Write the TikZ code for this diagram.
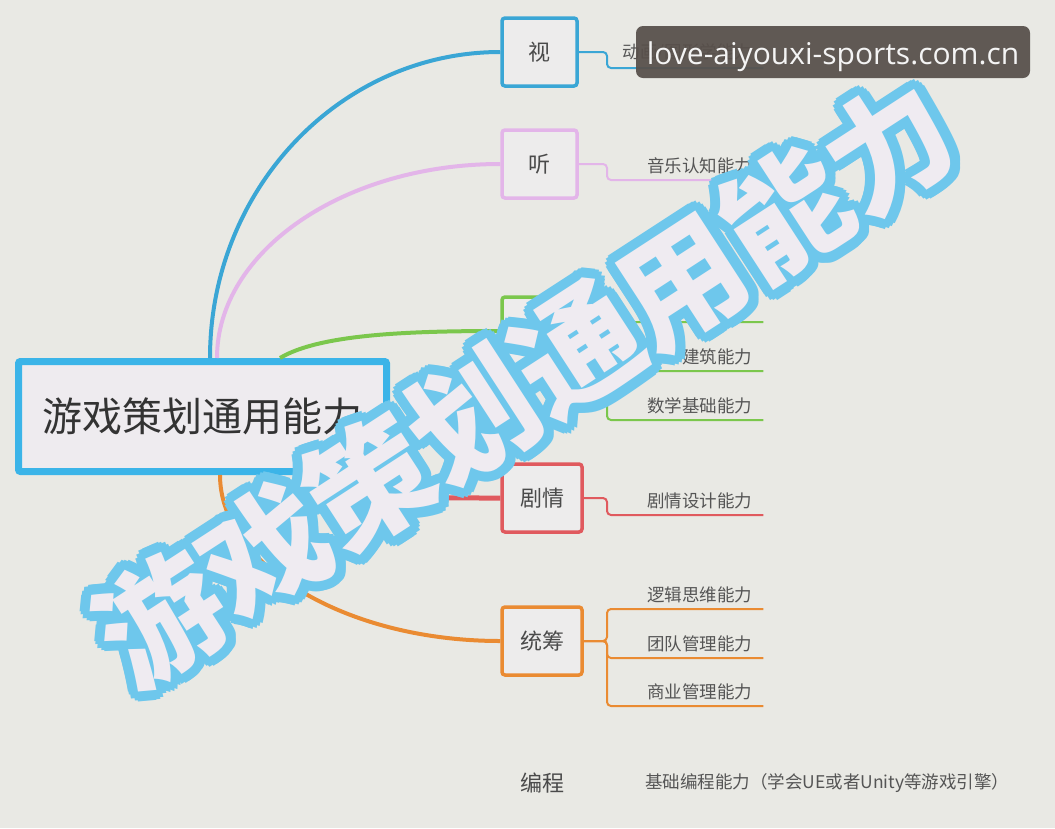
\documentclass[tikz,border=0pt]{standalone}
\usepackage{fontspec}
\setmainfont{Noto Sans CJK SC}
\newfontfamily\urlfont{Open Sans}
\definecolor{paper}{HTML}{E9E9E4}
\definecolor{rootfill}{HTML}{EEEBEF}
\definecolor{boxfill}{HTML}{EDECEC}
\definecolor{rootblue}{HTML}{3BB4E8}
\definecolor{visblue}{HTML}{3AA6D5}
\definecolor{hearpink}{HTML}{E3B5E9}
\definecolor{growgreen}{HTML}{7BC74C}
\definecolor{plotred}{HTML}{E05A5E}
\definecolor{planorange}{HTML}{EA8B32}
\definecolor{labelgray}{HTML}{4A4A4A}
\definecolor{leafgray}{HTML}{555555}
\definecolor{roottext}{HTML}{333333}
\definecolor{wmblue}{HTML}{6EC7EC}
\definecolor{wmfill}{HTML}{EFEBF1}
\definecolor{urlbg}{HTML}{58504B}
\definecolor{urltext}{HTML}{F4F4F4}
\begin{document}
\begin{tikzpicture}[x=1pt, y=-1pt,
    topic/.style={draw=#1, fill=boxfill, line width=3.5pt, rounded corners=3pt,
      minimum width=75pt, minimum height=68pt, text=labelgray,
      font=\fontsize{22}{26}\selectfont},
    wide/.style={minimum width=80pt},
    leaf/.style={anchor=south west, text width=134pt, inner xsep=11pt, inner ysep=6pt,
      align=right, text=leafgray, font=\fontsize{17.5}{20}\selectfont},
    trunk/.style={draw=#1, line width=4pt},
    twig/.style={draw=#1, line width=2pt, rounded corners=4pt},
    wmtext/.style={rotate=33, inner sep=0pt, text=wmfill,
      font=\bfseries\fontsize{124}{124}\selectfont}]
  \useasboundingbox (0,0) rectangle (1055,828);
  \fill[paper] (0,0) rectangle (1055,828);

  % root and main topics
  \node[draw=rootblue, fill=rootfill, line width=7pt, rounded corners=2pt,
    minimum width=368pt, minimum height=110pt, text=roottext,
    font=\fontsize{40}{44}\selectfont] (root) at (202.5,416.5) {游戏策划通用能力};
  \node[topic=visblue] (see) at (539.5,52) {视};
  \node[topic=hearpink] (hear) at (539.5,164) {听};
  \node[topic=growgreen, wide] (build) at (542,331) {};
  \node[topic=plotred, wide] (plot) at (542,498) {剧情};
  \node[topic=planorange, wide] (plan) at (542,641) {统筹};
  \node[text=labelgray, font=\fontsize{22}{26}\selectfont] (code) at (542,783) {编程};

  % leaves
  \node[leaf] (anim) at (607,68) {动画/图形学能力};
  \node[leaf] (music) at (607,180) {音乐认知能力};
  \node[leaf] (scene) at (607,322) {};
  \node[leaf] (archi) at (607,371) {建筑能力};
  \node[leaf] (math) at (607,420) {数学基础能力};
  \node[leaf] (story) at (607,515) {剧情设计能力};
  \node[leaf] (logic) at (607,609) {逻辑思维能力};
  \node[leaf] (team) at (607,658) {团队管理能力};
  \node[leaf] (biz) at (607,706) {商业管理能力};
  \node[anchor=west, inner sep=0pt, text=leafgray, font=\fontsize{17.5}{20}\selectfont]
    (engine) at (645,783) {基础编程能力（学会UE或者Unity等游戏引擎）};

  % curved branches
  \draw[trunk=visblue] ([xshift=195pt]root.north west) .. controls +(0,-169) and +(-160,0) .. (see.west);
  \draw[trunk=hearpink] ([xshift=202pt]root.north west) .. controls +(0,-107) and +(-156,0) .. (hear.west);
  \draw[trunk=growgreen] ([xshift=265pt]root.north west) .. controls +(40,-24) and +(-90,0) .. (build.west);
  \draw[trunk=plotred, line width=5pt] ([xshift=280pt]root.south west) .. controls +(30,23) and +(-100,0) .. (plot.west);
  \draw[trunk=planorange] ([xshift=205pt]root.south west) .. controls +(0,90) and +(-155,0) .. (plan.west);

  % elbows
  \draw[twig=visblue] (see.east) -| (anim.south west) -- (anim.south east);
  \draw[twig=hearpink] (hear.east) -| (music.south west) -- (music.south east);
  \foreach \leaf in {scene,archi,math}
    \draw[twig=growgreen] (build.east) -| (\leaf.south west) -- (\leaf.south east);
  \draw[twig=plotred] (plot.east) -| (story.south west) -- (story.south east);
  \foreach \leaf in {logic,team,biz}
    \draw[twig=planorange] (plan.east) -| (\leaf.south west) -- (\leaf.south east);

  % big stamp over everything
  \coordinate (wmc) at (525,382);
  \foreach \a in {0,22.5,...,337.5}
    \node[wmtext, text=wmblue] at ([shift={(\a:10pt)}]wmc) {游戏策划通用能力};
  \node[wmtext] (stamp) at (wmc) {游戏策划通用能力};

  \node[fill=urlbg, fill opacity=0.94, text opacity=1, rounded corners=7pt,
    minimum width=394pt, minimum height=52pt, text height=31pt, text depth=7pt,
    text=urltext, font=\urlfont\fontsize{30}{30}\selectfont] (url) at (833,52) {love-aiyouxi-sports.com.cn};
\end{tikzpicture}
\end{document}
